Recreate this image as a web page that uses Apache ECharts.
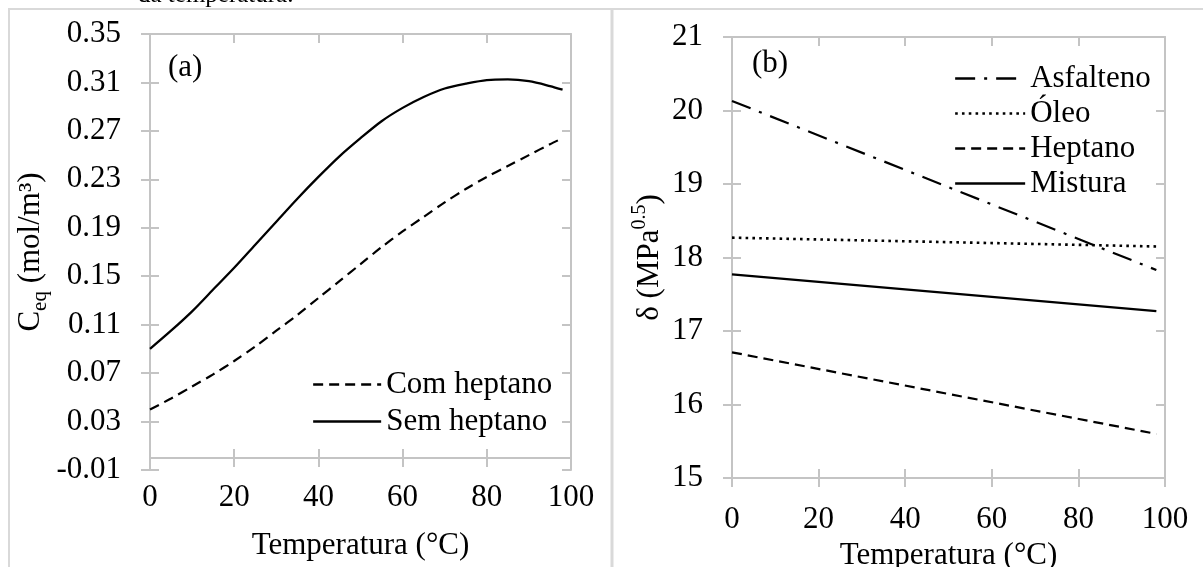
<!DOCTYPE html>
<html><head><meta charset="utf-8">
<script src="https://cdn.jsdelivr.net/npm/echarts@6/dist/echarts.min.js"></script>
<style>html,body{margin:0;padding:0;background:#fff}#c{width:1203px;height:567px}</style>
</head><body><div id="c"></div>
<script>
// ---- data (a) ----
const tempsA = [0,5,10,15,20,25,30,35,40,45,50,55,60,65,70,75,80,85,90,95,98];
const semHeptano = [0.090,0.105,0.121,0.139,0.157,0.176,0.195,0.214,0.232,0.249,0.264,0.278,0.289,0.298,0.305,0.309,0.312,0.3125,0.311,0.307,0.304];
const comHeptano = [0.040,0.049,0.059,0.069,0.080,0.092,0.105,0.118,0.132,0.146,0.160,0.174,0.187,0.199,0.211,0.222,0.232,0.241,0.250,0.259,0.264];
const ceqTicks = [-0.01,0.03,0.07,0.11,0.15,0.19,0.23,0.27,0.31,0.35];
// ---- data (b) ----
const tempsB = [0, 98];
const asfalteno = [20.13, 17.83];
const oleo = [18.27, 18.15];
const heptano = [16.71, 15.60];
const mistura = [17.77, 17.27];
const deltaTicks = [15,16,17,18,19,20,21];
const tempTicks = [0,20,40,60,80,100];

const FONT = 'Liberation Serif';
const FS = 31;
const AX = '#c4c4c4';
const BORDER = '#d9d9d9';
const zip = (xs, ys) => xs.map((x, i) => [x, ys[i]]);

function xAxesFor(grid, onZero, labelMargin, nameGap) {
  const base = {type:'value', gridIndex:grid, min:0, max:100, splitLine:{show:false}};
  return [
    Object.assign({}, base, {position:'bottom',
      axisLine:{show:true, onZero:onZero, lineStyle:{color:AX, width:2}},
      axisTick:{show:true, inside:false, length:9, customValues:tempTicks, lineStyle:{color:AX, width:2}},
      axisLabel:{show:true, customValues:tempTicks, margin:labelMargin, fontFamily:FONT, fontSize:FS, color:'#000'},
      name:'Temperatura (°C)', nameLocation:'middle', nameGap:nameGap,
      nameTextStyle:{fontFamily:FONT, fontSize:FS, color:'#000'}}),
    Object.assign({}, base, {position:'bottom',
      axisLine:{show:false, onZero:onZero},
      axisTick:{show:true, inside:true, length:9, customValues:tempTicks, lineStyle:{color:AX, width:2}},
      axisLabel:{show:false}}),
    Object.assign({}, base, {position:'top',
      axisLine:{show:true, onZero:false, lineStyle:{color:AX, width:2}},
      axisTick:{show:true, inside:true, length:9, customValues:tempTicks, lineStyle:{color:AX, width:2}},
      axisLabel:{show:false}})
  ];
}

function yAxesFor(grid, min, max, ticks, fmt, name, nameGap, rich) {
  const base = {type:'value', gridIndex:grid, min:min, max:max, splitLine:{show:false}};
  return [
    Object.assign({}, base, {position:'left',
      axisLine:{show:true, onZero:false, lineStyle:{color:AX, width:2}},
      axisTick:{show:true, inside:false, length:9, customValues:ticks, lineStyle:{color:AX, width:2}},
      axisLabel:{show:true, customValues:ticks, formatter:fmt, margin:29, fontFamily:FONT, fontSize:FS, color:'#000'},
      name:name, nameLocation:'middle', nameRotate:90, nameGap:nameGap,
      nameTextStyle:{fontFamily:FONT, fontSize:FS, color:'#000', rich:rich}}),
    Object.assign({}, base, {position:'left',
      axisLine:{show:false, onZero:false},
      axisTick:{show:true, inside:true, length:9, customValues:ticks, lineStyle:{color:AX, width:2}},
      axisLabel:{show:false}}),
    Object.assign({}, base, {position:'right',
      axisLine:{show:true, onZero:false, lineStyle:{color:AX, width:2}},
      axisTick:{show:true, inside:true, length:9, customValues:ticks, lineStyle:{color:AX, width:2}},
      axisLabel:{show:false}})
  ];
}

const richA = {
  m:{fontFamily:FONT, fontSize:FS, lineHeight:40, color:'#000'},
  s:{fontFamily:FONT, fontSize:21, lineHeight:20, verticalAlign:'bottom', color:'#000'}
};
const richB = {
  m:{fontFamily:FONT, fontSize:FS, lineHeight:40, color:'#000'},
  p:{fontFamily:FONT, fontSize:20, lineHeight:20, verticalAlign:'top', color:'#000'}
};

const lineBase = {type:'line', symbol:'none', showSymbol:false, animation:false, silent:true, color:'#000'};
const legendText = {fontFamily:FONT, fontSize:FS, lineHeight:31, color:'#000'};
const legendCommon = {orient:'vertical', padding:0, itemHeight:14, selectedMode:false, textStyle:legendText,
  itemStyle:{color:'rgba(0,0,0,0)', borderColor:'rgba(0,0,0,0)', borderWidth:0, opacity:0},
  lineStyle:{width:2.3}};

const option = {
  animation:false,
  grid:[
    {left:150, top:34, width:421, height:436, outerBoundsMode:'none', containLabel:false},
    {left:732, top:37, width:433, height:441, outerBoundsMode:'none', containLabel:false}
  ],
  xAxis: xAxesFor(0, true, 12, 60).concat(xAxesFor(1, false, 26, 57)),
  yAxis: yAxesFor(0, -0.01, 0.35, ceqTicks, v => v.toFixed(2), '{m|C}{s|eq}{m| (mol/m³)}', 99, richA)
    .concat(yAxesFor(1, 15, 21, deltaTicks, v => String(v), '{m|δ (MPa}{p|0.5}{m|)}', 62, richB)),
  legend:[
    Object.assign({}, legendCommon, {data:['Com heptano','Sem heptano'], left:312, top:369, itemWidth:68, itemGap:6}),
    Object.assign({}, legendCommon, {data:['Asfalteno','Óleo','Heptano','Mistura'], left:954, top:63, itemWidth:70, itemGap:4})
  ],
  series:[
    Object.assign({}, lineBase, {name:'Com heptano', xAxisIndex:0, yAxisIndex:0, smooth:0.3,
      data:zip(tempsA, comHeptano), lineStyle:{color:'#000', width:2.2, type:[10,6]}}),
    Object.assign({}, lineBase, {name:'Sem heptano', xAxisIndex:0, yAxisIndex:0, smooth:0.3,
      data:zip(tempsA, semHeptano), lineStyle:{color:'#000', width:2.3, type:'solid'}}),
    Object.assign({}, lineBase, {name:'Asfalteno', xAxisIndex:3, yAxisIndex:3,
      data:zip(tempsB, asfalteno), lineStyle:{color:'#000', width:2.2, type:[20,9,3,9]}}),
    Object.assign({}, lineBase, {name:'Óleo', xAxisIndex:3, yAxisIndex:3,
      data:zip(tempsB, oleo), lineStyle:{color:'#000', width:2.6, type:[2.6,4.2]}}),
    Object.assign({}, lineBase, {name:'Heptano', xAxisIndex:3, yAxisIndex:3,
      data:zip(tempsB, heptano), lineStyle:{color:'#000', width:2.2, type:[10,6]}}),
    Object.assign({}, lineBase, {name:'Mistura', xAxisIndex:3, yAxisIndex:3,
      data:zip(tempsB, mistura), lineStyle:{color:'#000', width:2.3, type:'solid'}})
  ],
  graphic:[
    {type:'line', silent:true, shape:{x1:8, y1:9, x2:1203, y2:9}, style:{stroke:BORDER, lineWidth:2}},
    {type:'line', silent:true, shape:{x1:9, y1:9, x2:9, y2:567}, style:{stroke:BORDER, lineWidth:2}},
    {type:'line', silent:true, shape:{x1:612, y1:9, x2:612, y2:567}, style:{stroke:BORDER, lineWidth:3}},
    {type:'text', silent:true, x:138, y:-5, style:{text:'da temperatura.', font:'25px "'+FONT+'"', fill:'#000', align:'left', verticalAlign:'middle'}},
    {type:'text', silent:true, x:168, y:68, style:{text:'(a)', font:FS+'px "'+FONT+'"', fill:'#000', align:'left', verticalAlign:'middle'}},
    {type:'text', silent:true, x:752, y:64, style:{text:'(b)', font:FS+'px "'+FONT+'"', fill:'#000', align:'left', verticalAlign:'middle'}}
  ]
};
const chart = echarts.init(document.getElementById('c'), null, {renderer:'canvas'});
chart.setOption(option);
</script></body></html>
